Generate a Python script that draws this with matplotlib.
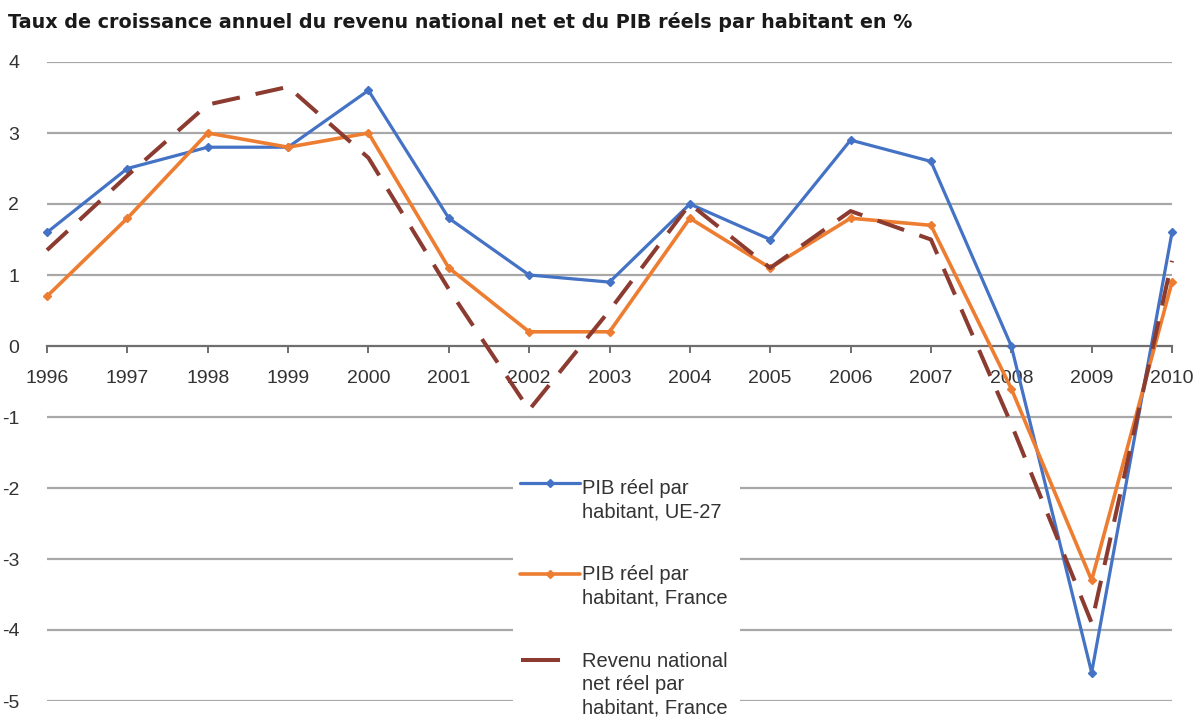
import matplotlib
matplotlib.use("Agg")
import matplotlib.pyplot as plt
from matplotlib.lines import Line2D
from matplotlib.patches import Rectangle

# Data: annual growth rates (%)
years = list(range(1996, 2011))
pib_ue27 = [1.6, 2.5, 2.8, 2.8, 3.6, 1.8, 1.0, 0.9, 2.0, 1.5, 2.9, 2.6, 0.0, -4.6, 1.6]
pib_france = [0.7, 1.8, 3.0, 2.8, 3.0, 1.1, 0.2, 0.2, 1.8, 1.1, 1.8, 1.7, -0.6, -3.3, 0.9]
rnn_france = [1.35, 2.4, 3.4, 3.65, 2.65, 0.8, -0.9, 0.5, 2.0, 1.1, 1.9, 1.5, -1.1, -3.9, 1.2]
y_ticks = [4, 3, 2, 1, 0, -1, -2, -3, -4, -5]
series_labels = [
    "PIB réel par\nhabitant, UE-27",
    "PIB réel par\nhabitant, France",
    "Revenu national\nnet réel par\nhabitant, France",
]
title = "Taux de croissance annuel du revenu national net et du PIB réels par habitant en %"

W, H = 1204, 719
fig = plt.figure(figsize=(W / 100, H / 100), dpi=100)
fig.patch.set_facecolor("white")


def px(x, y):
    """Figure pixel (from top-left) to figure fraction."""
    return x / W, 1 - y / H


left, right, top, bottom = 47, 1172, 62, 701
ax = fig.add_axes([left / W, 1 - bottom / H, (right - left) / W, (bottom - top) / H])

styles = [
    dict(color="#4472C4", lw=2.3, marker="D", ms=4.5, solid_capstyle="round"),
    dict(color="#ED7D31", lw=2.6, marker="D", ms=4.5, solid_capstyle="round"),
    dict(color="#8C3B30", lw=2.9, ls=(0, (7, 4)), dash_capstyle="butt"),
]
for vals, st in zip([pib_ue27, pib_france, rnn_france], styles):
    ax.plot(years, vals, clip_on=False, zorder=3, **st)

ax.set_xlim(1996, 2010)
ax.set_ylim(-5, 4)
ax.set_yticks(y_ticks)
ax.set_yticklabels([str(v) for v in y_ticks])
ax.set_xticks(years)
ax.set_xticklabels([str(y) for y in years])

for v in y_ticks:
    if v != 0:
        ax.axhline(v, color="#A8A8A8", lw=1.6, zorder=1)

for s in ["top", "right", "left"]:
    ax.spines[s].set_visible(False)
ax.spines["bottom"].set_position(("data", 0))
ax.spines["bottom"].set_color("#6E6E6E")
ax.spines["bottom"].set_linewidth(1.6)
ax.spines["bottom"].set_zorder(2)

ax.tick_params(axis="x", direction="out", length=5, width=1.4, color="#6E6E6E",
               pad=12, labelcolor="#333333", labelsize=14)
ax.tick_params(axis="y", length=0, pad=20, labelcolor="#333333", labelsize=14)
for lab in ax.get_xticklabels() + ax.get_yticklabels():
    lab.set_family(["Liberation Sans", "DejaVu Sans"])

# Title
tx, ty = px(8, 22)
fig.text(tx, ty, title, fontsize=13.8, fontweight="bold", color="#1A1A1A",
         family="DejaVu Sans", va="center", ha="left")

# Legend drawn as an overlay box inside the plot
bx0, by0 = px(513, 719)
bx1, by1 = px(740, 462)
fig.patches.append(Rectangle((bx0, by0), bx1 - bx0, by1 - by0, transform=fig.transFigure,
                             facecolor="white", edgecolor="none", zorder=5))

handle_y = [483, 574, 660]
text_top = [479, 565, 652]
handle_x = [(520, 580), (520, 580), (523, 558)]
for lab, st, hy, tt, (hx0, hx1) in zip(series_labels, styles, handle_y, text_top, handle_x):
    x0, y0 = px(hx0, hy)
    x1, _ = px(hx1, hy)
    st2 = dict(st)
    if "marker" in st2:
        xm = (x0 + x1) / 2
        line = Line2D([x0, xm, x1], [y0, y0, y0], transform=fig.transFigure,
                      markevery=[1], zorder=6, **st2)
    else:
        st2["ls"] = "-"
        line = Line2D([x0, x1], [y0, y0], transform=fig.transFigure, zorder=6, **st2)
    fig.lines.append(line)
    lx, ly = px(582, tt)
    fig.text(lx, ly, lab, fontsize=14.5, color="#333333", family=["Liberation Sans", "DejaVu Sans"],
             va="top", ha="left", linespacing=1.3, zorder=7)

fig.savefig("out.png", dpi=100)
